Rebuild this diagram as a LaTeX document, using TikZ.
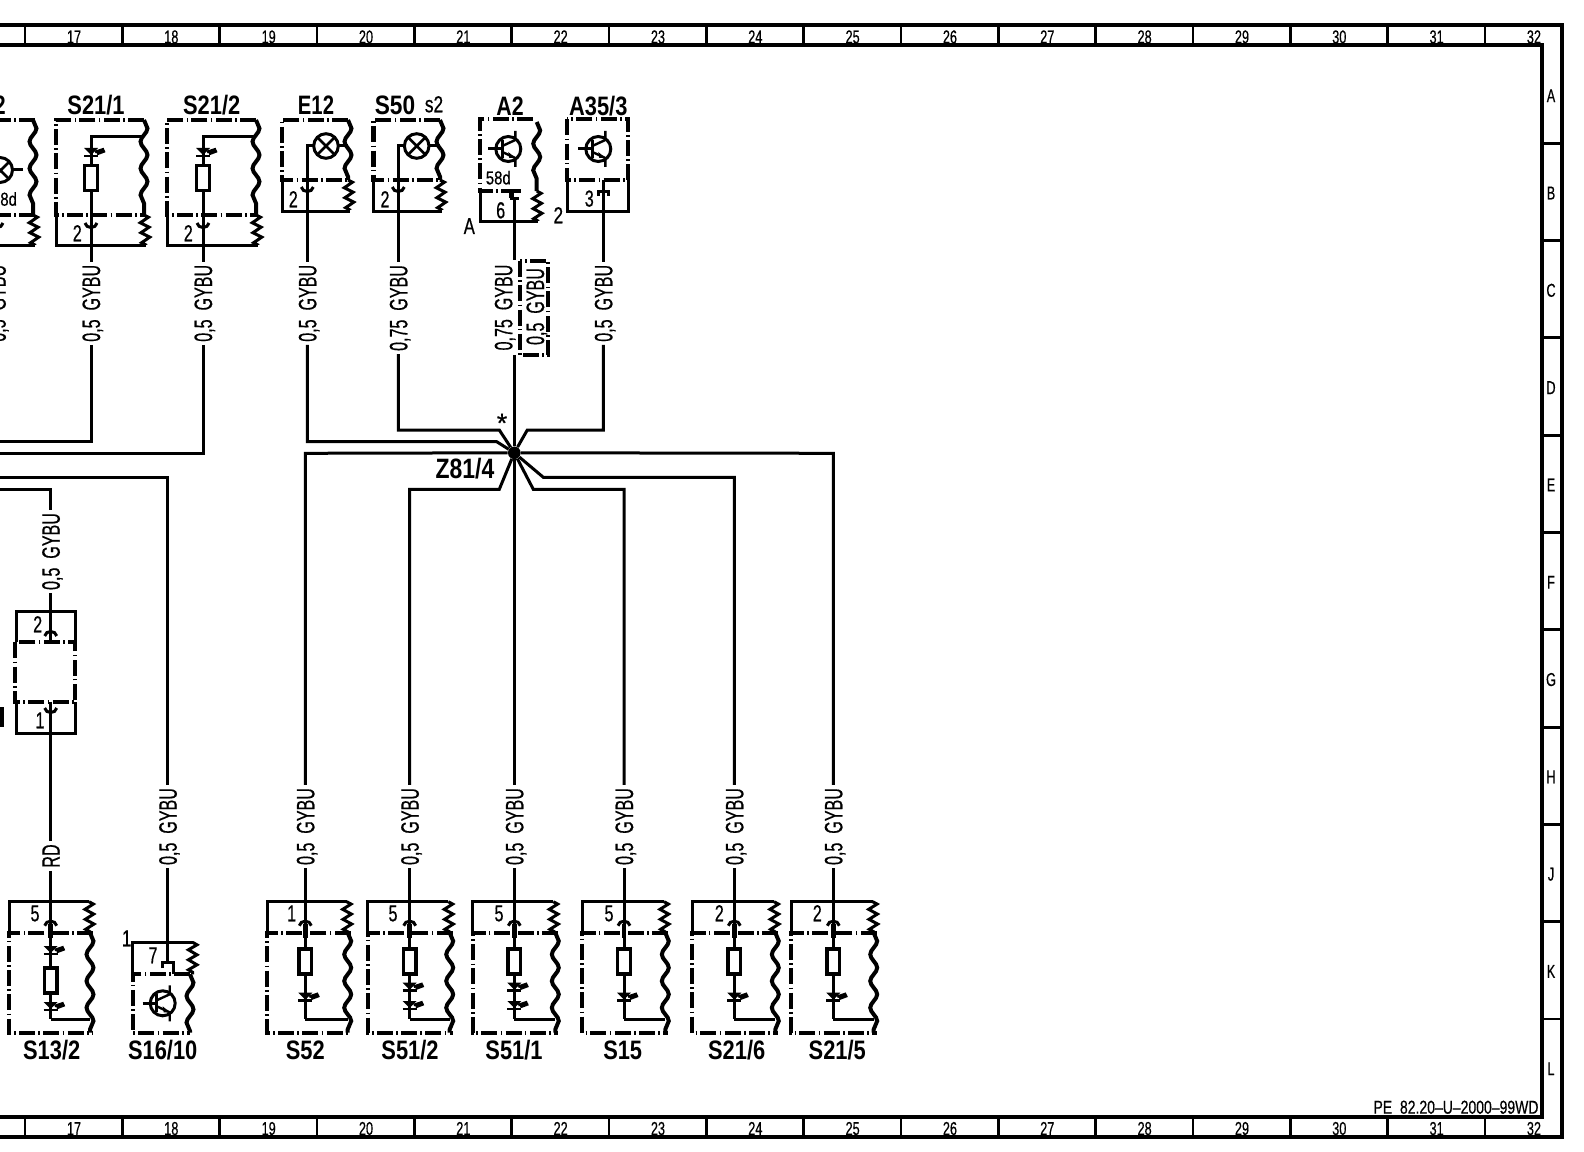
\documentclass[tikz,border=0pt]{standalone}
\usepackage{fontspec}
\setmainfont{Liberation Sans}
\newfontfamily\heavyf[FakeBold=0.6]{Liberation Sans}
\usetikzlibrary{decorations.pathmorphing}
\newcommand\nrw[2]{\scalebox{#1}[1]{#2}}
\newcommand\wfont{\heavyf\fontsize{18.85pt}{20pt}\selectfont}
\newcommand\bfontx{\fontsize{20pt}{21pt}\selectfont\bfseries}
\newcommand\pfont{\heavyf\fontsize{17.3pt}{19pt}\selectfont}
\newcommand\gfont{\heavyf\fontsize{14pt}{16pt}\selectfont}
\tikzset{
  wire/.style={line width=2.25pt,line join=miter},
  frameline/.style={line width=2.7pt},
  tickline/.style={line width=2.2pt},
  dbox/.style={line width=3.2pt,dash pattern=on 12pt off 2.5pt on 1.2pt off 2.5pt},
  bwave/.style={line width=3pt,decorate,decoration={snake,segment length=20pt,amplitude=2.6pt}},
  zz/.style={line width=2.25pt,decorate,decoration={zigzag,segment length=7.5pt,amplitude=3.2pt}},
  wirelab/.style={rotate=90,inner sep=0pt,font=\wfont,text height=13.5pt,text depth=0pt},
  boldlab/.style={inner sep=0pt,font=\bfontx,text height=14.3pt,text depth=0pt},
  pinlab/.style={inner sep=0pt,font=\pfont,text height=12.4pt,text depth=0pt},
  gridlab/.style={inner sep=0pt,font=\gfont,text height=10pt,text depth=0pt},
  hubdot/.style={circle,fill=black,inner sep=0pt,minimum size=9.5pt},
  gapin/.style={shorten <=2.2pt},
  gapout/.style={shorten >=2.2pt},
  resbox/.style={line width=2.6pt,fill=white},
  symline/.style={line width=2.25pt},
}
% LED symbol
\newcommand\led[2]{%
  \fill (#1-7,#2-4)--(#1+7,#2-4)--(#1,#2+3)--cycle;
  \draw[line width=2pt] (#1-7,#2+4)--(#1+7,#2+4);
  \draw[line width=2pt] (#1+4,#2)--(#1+13,#2-3) (#1+6,#2+2)--(#1+14,#2-1);
}
\newcommand\lamp[2]{%
  \draw[symline,fill=white] (#1,#2) circle (12.3);
  \draw[line width=2pt] (#1-8.7,#2-8.7)--(#1+8.7,#2+8.7) (#1-8.7,#2+8.7)--(#1+8.7,#2-8.7);
}
\newcommand\trans[2]{%
  \draw[symline] (#1,#2) circle (12.5);
  \draw[symline] (#1-20,#2)--(#1-6,#2);
  \draw[symline] (#1-6,#2-9)--(#1-6,#2+9);
  \draw[line width=1.8pt] (#1-6,#2-3)--(#1+7,#2-9)--(#1+7,#2-18);
  \draw[line width=1.8pt] (#1-6,#2+3)--(#1+7,#2+9)--(#1+7,#2+18);
  \fill (#1+7,#2+9)--(#1,#2+3)--(#1+1,#2+9)--cycle;
}
\newcommand\sockU[2]{\draw[wire] (#1-6,#2-2) .. controls (#1-5,#2+4) and (#1+5,#2+4) .. (#1+6,#2-2);}
\newcommand\sockN[2]{\draw[wire] (#1-6,#2+4) .. controls (#1-5,#2-2) and (#1+5,#2-2) .. (#1+6,#2+4);}
\newcommand\pinU[2]{\draw[wire] (#1-5,#2+5)--(#1-5,#2)--(#1+5,#2)--(#1+5,#2+5);}
\newcommand\res[3]{\draw[resbox] (#1-6.4,#2) rectangle (#1+6.4,#3);}
\newcommand\botframe[4]{%
  \draw[wire] (#1,932.7)--(#1,901.7)--(#3,901.7);
  \draw[zz] (#3,901.7)--(#3+1,932.7);
  \draw[dbox] (#4,932.7)--(#1,932.7)--(#1,1032.7)--(#4,1032.7);
  \draw[bwave] (#4-3,932.7)--(#4-3,1032.7);
  \draw[wire] (#2,1019.3)--(#4-3,1019.3);
  \sockN{#2}{921.7}
  \draw[line width=3.4pt] (#2,924)--(#2,938);
}
\newcommand\topS[4]{% left, wire, wave x, unused
  \draw[dbox] (#3,120)--(#1,120)--(#1,215)--(#3,215);
  \draw[bwave] (#3,120)--(#3,215);
  \draw[zz] (#3,215)--(#3+2,245);
  \draw[wire] (#1,215)--(#1,245)--(#3+2,245);
  \draw[wire] (#3,136.7)--(#2,136.7)--(#2,245);
  \led{#2}{152}
  \res{#2}{165.7}{190.7}
  \sockU{#2}{225}
}
\newcommand\topL[5]{% left, wire, lamp x, right, unused
  \draw[dbox] (#4,120)--(#1,120)--(#1,180)--(#4,180);
  \draw[bwave] (#4,120)--(#4,180);
  \draw[zz] (#4,180)--(#4+2,210);
  \draw[wire] (#1,180)--(#1,211)--(#4+2,211);
  \draw[wire] (#3,146)--(#2,146)--(#2,211);
  \draw[wire] (#3,146)--(#4,146);
  \lamp{#3}{146}
  \sockU{#2}{189}
}
\begin{document}
\begin{tikzpicture}[x=0.75pt,y=-0.75pt]
\useasboundingbox (0,0) rectangle (1584,1152);
\clip (0,0) rectangle (1584,1152);
\fill[white] (0,0) rectangle (1584,1152);

% frame
\draw[frameline] (-5,25)--(1562,25)--(1562,1137)--(-5,1137);
\draw[frameline] (-5,45)--(1542,45)--(1542,1117)--(-5,1117);
\foreach \k in {0,...,15} {
  \draw[tickline] (25+\k*97.33,25)--(25+\k*97.33,45);
  \draw[tickline] (25+\k*97.33,1117)--(25+\k*97.33,1137);
}
\foreach \k in {0,...,9} \draw[tickline] (1542,143.3+\k*97.3)--(1562,143.3+\k*97.3);
\foreach \n in {17,...,32} {
  \node[gridlab] (colT\n) at (74+\n*97.33-17*97.33,36.7) {\nrw{.68}{\n}};
  \node[gridlab] (colB\n) at (74+\n*97.33-17*97.33,1128.3) {\nrw{.68}{\n}};
}
\foreach \L [count=\i from 0] in {A,B,C,D,E,F,G,H,J,K,L}
  \node[gridlab] (row\L) at (1551,95.5+\i*97.3) {\nrw{.68}{\L}};
\node[gridlab] (pe) at (1456,1107) {\nrw{.75}{PE\ \ 82.20–U–2000–99WD}};

% hub
\node[hubdot] (hub) at (514.3,452.8) {};
\node[inner sep=0pt,font=\heavyf\fontsize{20pt}{20pt}\selectfont] (star) at (502,423) {*};
\node[boldlab,text height=15pt] (zhub) at (465,468.5) {\nrw{.82}{\fontsize{21pt}{22pt}\selectfont Z81/4}};

% left fragment of upper row
\draw[dbox] (35,120)--(-5,120);
\draw[dbox] (35,215)--(-5,215);
\draw[bwave] (33,120)--(33,215);
\draw[zz] (33,215)--(35,245);
\draw[wire] (-5,245)--(35,245);
\draw[symline] (0,170) circle (12.5);
\draw[line width=2pt] (-8,162)--(9,179) (-8,179)--(9,162);
\draw[wire] (12,170)--(23,170);
\sockU{-3}{225}
\node[boldlab] (tl2) at (-0.3,105) {\nrw{.8}{2}};
\node[gridlab] (pl58) at (4.5,199) {\nrw{.8}{58d}};
\node[wirelab] (w0) at (-3.3,303.3) {\nrw{.64}{0,5\ \ GYBU}};

% S21/1 and S21/2
\topS{56}{91}{144}{}
\topS{167}{203}{256}{}
\node[boldlab] (nS211) at (96,105) {\nrw{.82}{S21/1}};
\node[boldlab] (nS212) at (211.7,105) {\nrw{.82}{S21/2}};
\node[pinlab] (p1) at (77.3,233) {\nrw{.7}{2}};
\node[pinlab] (p2) at (188.3,233) {\nrw{.7}{2}};
\node[wirelab] (w1) at (91,303.3) {\nrw{.64}{0,5\ \ GYBU}};
\node[wirelab] (w2) at (203,303.3) {\nrw{.64}{0,5\ \ GYBU}};
\coordinate (c1) at (91,245);
\coordinate (c2) at (203,245);
\coordinate (e1) at (-5,441.3);
\coordinate (e2) at (-5,453.3);
\draw[wire,gapout] (c1)--(w1.east);
\draw[wire,gapout] (c2)--(w2.east);
\draw[wire,gapin] (w1.west)--(91,441.3)--(e1);
\draw[wire,gapin] (w2.west)--(203,453.3)--(e2);

% E12 and S50
\topL{282}{307.3}{326}{348}{}
\topL{373.5}{398.3}{416.7}{440}{}
\node[boldlab] (nE12) at (316,105) {\nrw{.76}{E12}};
\node[boldlab] (nS50) at (395,105) {\nrw{.85}{S50}};
\node[pinlab] (ns2) at (434,104) {\nrw{.75}{s2}};
\node[pinlab] (p3) at (293.3,199) {\nrw{.7}{2}};
\node[pinlab] (p4) at (385,199) {\nrw{.7}{2}};
\node[wirelab] (w3) at (307.3,303.3) {\nrw{.64}{0,5\ \ GYBU}};
\node[wirelab] (w4) at (398.3,308) {\nrw{.64}{0,75\ \ GYBU}};
\coordinate (c3) at (307.3,211);
\coordinate (c4) at (398.3,211);
\draw[wire,gapout] (c3)--(w3.east);
\draw[wire,gapout] (c4)--(w4.east);
\draw[wire,gapin] (w3.west)--(307.3,441.7)--(496.7,441.7)--(hub);
\draw[wire,gapin] (w4.west)--(398.3,430)--(499.3,430)--(hub);

% A2
\draw[dbox] (533,119.3)--(480,119.3)--(480,191)--(510,191);
\draw[bwave] (536.7,122)--(536.7,191);
\draw[zz] (536.7,191)--(538,221);
\draw[wire] (480,191)--(480,221.7)--(538,221.7);
\trans{508.3}{149}
\draw[wire] (514.3,221.7)--(514.3,198);
\draw[line width=3.2pt] (511.5,198)--(511.5,191)--(521,191);
\draw[wire] (510,198)--(519,198);
\node[boldlab] (nA2) at (510,105.5) {\nrw{.8}{A2}};
\node[gridlab] (p58) at (498.3,177.7) {\nrw{.8}{58d}};
\node[pinlab] (p5) at (500.7,210) {\nrw{.7}{6}};
\node[pinlab] (p6) at (558.3,215) {\nrw{.75}{2}};
\node[pinlab] (p7) at (469.3,225.7) {\nrw{.72}{A}};
\node[wirelab] (w5) at (503.3,307.5) {\nrw{.64}{0,75\ \ GYBU}};
\node[wirelab] (w6) at (535,306.5) {\nrw{.64}{0,5\ \ GYBU}};
\draw[dbox] (520,261) rectangle (548.3,355);
\coordinate (c5) at (514.3,221.7);
\coordinate (c5b) at (514.3,260);
\coordinate (c5c) at (514.3,355);
\draw[wire] (c5)--(c5b);
\draw[wire] (c5c)--(hub);

% A35/3
\draw[dbox] (567.3,119.3) rectangle (628.3,180);
\draw[wire] (567.3,180)--(567.3,211)--(628.3,211)--(628.3,180);
\trans{598.3}{149}
\draw[wire] (603.3,180)--(603.3,191);
\pinU{603.3}{191}
\node[boldlab] (nA35) at (598.3,105.5) {\nrw{.82}{A35/3}};
\node[pinlab] (p8) at (589.3,198.3) {\nrw{.7}{3}};
\node[wirelab] (w7) at (603.3,303.3) {\nrw{.64}{0,5\ \ GYBU}};
\coordinate (c7) at (603.3,191);
\draw[wire,gapout] (c7)--(w7.east);
\draw[wire,gapin] (w7.west)--(603.3,430)--(527.3,430)--(hub);

% middle-left block
\draw[wire] (16,642.3)--(16,611.7)--(75,611.7)--(75,642.3);
\draw[dbox] (15,642.3) rectangle (75,701.7);
\draw[wire] (16,701.7)--(16,733.3)--(75,733.3)--(75,701.7);
\sockN{50.7}{632}
\sockU{50.7}{710}
\draw[wire] (50.7,611.7)--(50.7,642.3);
\draw[wire] (50.7,701.7)--(50.7,733.3);
\fill (0,707) rectangle (4,727);
\node[pinlab] (p9) at (37.7,624) {\nrw{.7}{2}};
\node[pinlab] (p10) at (40,720) {\nrw{.7}{1}};
\node[wirelab] (w8) at (50.7,551.5) {\nrw{.64}{0,5\ \ GYBU}};
\node[wirelab] (w9) at (50.7,856) {\nrw{.64}{RD}};
\coordinate (e8) at (-5,489.3);
\coordinate (b8a) at (50.7,611.7);
\coordinate (b8b) at (50.7,733.3);
\draw[wire,gapin] (w8.east)--(50.7,489.3)--(e8);
\draw[wire,gapin] (w8.west)--(b8a);
\draw[wire,gapin] (w9.east)--(b8b);

% S13/2
\botframe{9}{50.7}{89}{93}
\draw[wire] (50.7,901.7)--(50.7,1019.3);
\res{50.7}{968}{993}
\led{50.7}{950}
\led{50.7}{1006}
\node[pinlab] (p11) at (35,913) {\nrw{.7}{5}};
\node[boldlab] (nS132) at (51.7,1050) {\nrw{.82}{S13/2}};
\coordinate (c9) at (50.7,901.7);
\draw[wire,gapin] (w9.west)--(c9);

% S16/10
\draw[wire] (132.7,974.3)--(132.7,942.3)--(192.7,942.3);
\draw[zz] (192.7,942.3)--(192.7,974.3);
\draw[dbox] (190,974.3)--(132.7,974.3)--(132.7,1032.7)--(190,1032.7);
\draw[bwave] (190,974.3)--(190,1032.7);
\draw[wire] (167.7,942.3)--(167.7,962);
\draw[wire] (162,968)--(162,962)--(173,962)--(173,974.3);
\trans{162.7}{1003.3}
\node[pinlab] (p12) at (126.7,938) {\nrw{.75}{1}};
\node[pinlab] (p13) at (153,955) {\nrw{.7}{7}};
\node[boldlab] (nS1610) at (162.7,1050) {\nrw{.82}{S16/10}};
\node[wirelab] (w10) at (167.7,826.5) {\nrw{.64}{0,5\ \ GYBU}};
\coordinate (c10) at (167.7,942.3);
\coordinate (e10) at (-5,477.3);
\draw[wire,gapin] (w10.west)--(c10);
\draw[wire,gapin] (w10.east)--(167.7,477.3)--(e10);

% S52
\botframe{267.3}{305.3}{346.7}{350.7}
\draw[wire] (305.3,901.7)--(305.3,1019.3);
\res{305.3}{949}{974}
\led{305.3}{996.7}
\node[pinlab] (p14) at (291.7,913) {\nrw{.7}{1}};
\node[boldlab] (nS52) at (305.3,1050) {\nrw{.82}{S52}};
\node[wirelab] (w11) at (305.3,826.5) {\nrw{.64}{0,5\ \ GYBU}};
\coordinate (c11) at (305.3,901.7);
\draw[wire,gapin] (w11.west)--(c11);
\draw[wire,gapin] (w11.east)--(305.3,453.3)--(hub);

% S51/2
\botframe{367.7}{409.7}{448.3}{452.7}
\draw[wire] (409.7,901.7)--(409.7,1019.3);
\res{409.7}{949}{974}
\led{409.7}{986.7}
\led{409.7}{1005}
\node[pinlab] (p15) at (393,913) {\nrw{.7}{5}};
\node[boldlab] (nS512) at (410,1050) {\nrw{.82}{S51/2}};
\node[wirelab] (w12) at (409.7,826.5) {\nrw{.64}{0,5\ \ GYBU}};
\coordinate (c12) at (409.7,901.7);
\draw[wire,gapin] (w12.west)--(c12);
\draw[wire,gapin] (w12.east)--(409.7,489.3)--(499.3,489.3)--(hub);

% S51/1
\botframe{472.7}{514.3}{553.3}{558.3}
\draw[wire] (514.3,901.7)--(514.3,1019.3);
\res{514.3}{949}{974}
\led{514.3}{986.7}
\led{514.3}{1005}
\node[pinlab] (p16) at (499,913) {\nrw{.7}{5}};
\node[boldlab] (nS511) at (514,1050) {\nrw{.82}{S51/1}};
\node[wirelab] (w13) at (514.3,826.5) {\nrw{.64}{0,5\ \ GYBU}};
\coordinate (c13) at (514.3,901.7);
\draw[wire,gapin] (w13.west)--(c13);
\draw[wire,gapin] (w13.east)--(hub);

% S15
\botframe{582.3}{624}{664}{668.3}
\draw[wire] (624,901.7)--(624,1019.3);
\res{624}{949}{974}
\led{624}{996.7}
\node[pinlab] (p17) at (609,913) {\nrw{.7}{5}};
\node[boldlab] (nS15) at (622.7,1050) {\nrw{.82}{S15}};
\node[wirelab] (w14) at (624,826.5) {\nrw{.64}{0,5\ \ GYBU}};
\coordinate (c14) at (624,901.7);
\draw[wire,gapin] (w14.west)--(c14);
\draw[wire,gapin] (w14.east)--(624,489.3)--(533.3,489.3)--(hub);

% S21/6
\botframe{692.3}{734.3}{774}{778.3}
\draw[wire] (734.3,901.7)--(734.3,1019.3);
\res{734.3}{949}{974}
\led{734.3}{996.7}
\node[pinlab] (p18) at (719.3,913) {\nrw{.7}{2}};
\node[boldlab] (nS216) at (736.7,1050) {\nrw{.82}{S21/6}};
\node[wirelab] (w15) at (734.3,826.5) {\nrw{.64}{0,5\ \ GYBU}};
\coordinate (c15) at (734.3,901.7);
\draw[wire,gapin] (w15.west)--(c15);
\draw[wire,gapin] (w15.east)--(734.3,477.3)--(543.3,477.3)--(hub);

% S21/5
\botframe{791}{833.3}{872.7}{876.7}
\draw[wire] (833.3,901.7)--(833.3,1019.3);
\res{833.3}{949}{974}
\led{833.3}{996.7}
\node[pinlab] (p19) at (817.3,913) {\nrw{.7}{2}};
\node[boldlab] (nS215) at (837.3,1050) {\nrw{.82}{S21/5}};
\node[wirelab] (w16) at (833.3,826.5) {\nrw{.64}{0,5\ \ GYBU}};
\coordinate (c16) at (833.3,901.7);
\draw[wire,gapin] (w16.west)--(c16);
\draw[wire,gapin] (w16.east)--(833.3,453.3)--(hub);
\end{tikzpicture}
\end{document}
